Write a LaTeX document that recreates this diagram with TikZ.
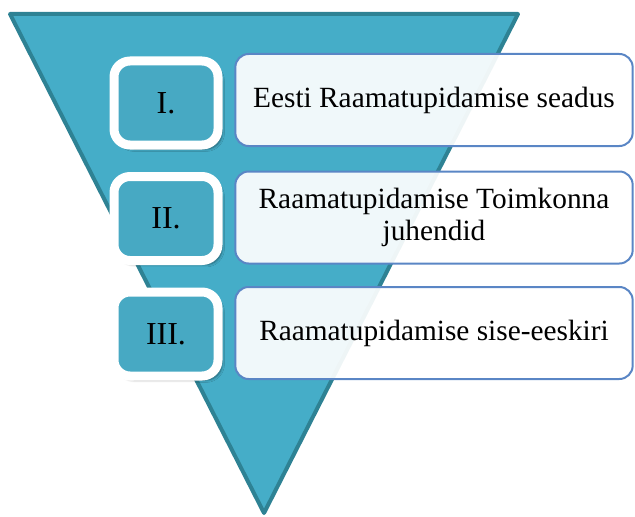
\documentclass[tikz,border=0pt]{standalone}
\usepackage{fontspec}
\setmainfont{Liberation Serif}
\usetikzlibrary{shadows.blur}
\definecolor{tri}{HTML}{45ADC8}
\definecolor{triedge}{HTML}{2E8294}
\definecolor{sq}{HTML}{47A9C3}
\definecolor{boxedge}{HTML}{5A86C5}
\tikzset{
  numbox/.style={draw=white, line width=6.75pt, fill=sq, rounded corners=12pt,
    minimum width=78pt, minimum height=63pt, inner sep=0pt,
    font=\fontsize{24}{28}\selectfont,
    blur shadow={shadow xshift=3pt, shadow yshift=-3pt, shadow blur steps=6, shadow opacity=45}},
  txtbox/.style={draw=boxedge, line width=1.5pt, fill=white, fill opacity=0.92, text opacity=1,
    rounded corners=10pt, minimum width=298pt, minimum height=69pt, inner sep=0pt,
    align=center, font=\fontsize{22}{24.5}\selectfont}
}
\begin{document}
\begin{tikzpicture}[x=0.75pt,y=-0.75pt]
\useasboundingbox (0,0) rectangle (635,517);
\coordinate (tl) at (10,14);
\coordinate (tr) at (518,14);
\coordinate (bt) at (264,513);
\draw[triedge, fill=tri, line width=3pt, line join=round] (tl) -- (tr) -- (bt) -- cycle;
\node[numbox] (n1) at (166,103) {I.};
\node[numbox] (n2) at (166,218.5) {II.};
\node[numbox] (n3) at (166,334) {III.};
\node[txtbox] (t1) at (434,100) {Eesti Raamatupidamise seadus};
\node[txtbox] (t2) at (434,217.5) {Raamatupidamise Toimkonna\\juhendid};
\node[txtbox] (t3) at (434,333) {Raamatupidamise sise-eeskiri};
\end{tikzpicture}
\end{document}
